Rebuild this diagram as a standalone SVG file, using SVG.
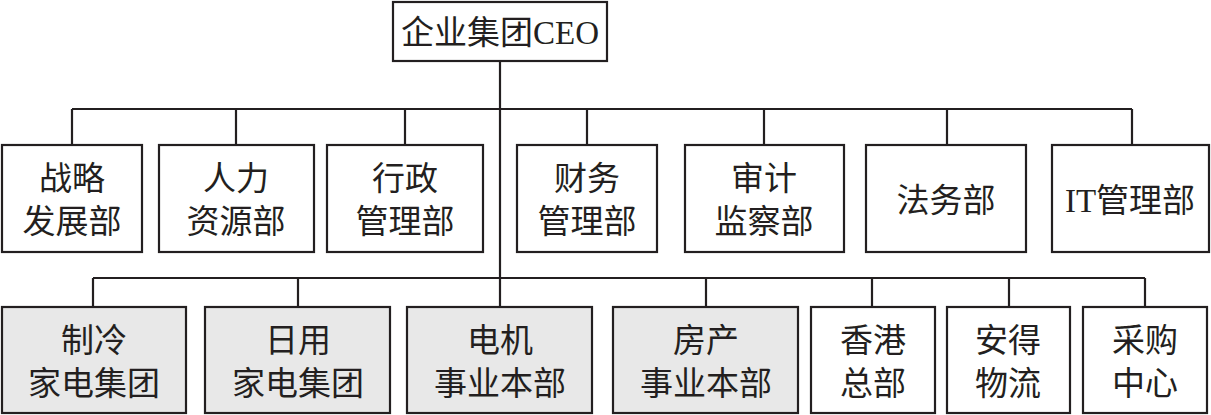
<svg xmlns="http://www.w3.org/2000/svg" width="1211" height="415" viewBox="0 0 1211 415">
<style>
.b{fill:#fff;stroke:#231f20;stroke-width:2.2}
.g{fill:#e8e8e8;stroke:#231f20;stroke-width:2.2}
.t{font-family:"Liberation Serif","Noto Sans CJK SC",serif;font-size:33px;fill:#231f20;text-anchor:middle}
.c{fill:none;stroke:#231f20;stroke-width:2.2}
</style>
<rect width="1211" height="415" fill="#fff"/>
<g id="connectors" class="c">
<path d="M500 61V278"/>
<path d="M72 109H1132M72 109V145M236 109V145M405 109V145M587 109V145M764 109V145M947 109V145M1132 109V145"/>
<path d="M93 278H1145M93 278V307M298 278V307M500 278V307M706 278V307M872 278V307M1009 278V307M1145 278V307"/>
</g>
<g id="ceo"><rect class="b" x="393" y="2" width="214" height="59"/><text class="t" x="500" y="44">企业集团CEO</text></g>
<g id="zhanlue"><rect class="b" x="2" y="145" width="140" height="107"/><text class="t" x="72" y="190">战略</text><text class="t" x="72" y="233">发展部</text></g>
<g id="renli"><rect class="b" x="159" y="145" width="155" height="107"/><text class="t" x="236" y="190">人力</text><text class="t" x="236" y="233">资源部</text></g>
<g id="xingzheng"><rect class="b" x="327" y="145" width="156" height="107"/><text class="t" x="405" y="190">行政</text><text class="t" x="405" y="233">管理部</text></g>
<g id="caiwu"><rect class="b" x="517" y="145" width="140" height="107"/><text class="t" x="587" y="190">财务</text><text class="t" x="587" y="233">管理部</text></g>
<g id="shenji"><rect class="b" x="685" y="145" width="159" height="107"/><text class="t" x="764" y="190">审计</text><text class="t" x="764" y="233">监察部</text></g>
<g id="fawu"><rect class="b" x="866" y="145" width="160" height="107"/><text class="t" x="946" y="212">法务部</text></g>
<g id="it"><rect class="b" x="1052" y="145" width="157" height="107"/><text class="t" x="1130" y="212">IT管理部</text></g>
<g id="zhileng"><rect class="g" x="2" y="307" width="184" height="106"/><text class="t" x="94" y="352">制冷</text><text class="t" x="94" y="395">家电集团</text></g>
<g id="riyong"><rect class="g" x="205" y="307" width="185" height="106"/><text class="t" x="298" y="352">日用</text><text class="t" x="298" y="395">家电集团</text></g>
<g id="dianji"><rect class="g" x="407" y="307" width="185" height="106"/><text class="t" x="500" y="352">电机</text><text class="t" x="500" y="395">事业本部</text></g>
<g id="fangchan"><rect class="g" x="613" y="307" width="185" height="106"/><text class="t" x="706" y="352">房产</text><text class="t" x="706" y="395">事业本部</text></g>
<g id="xianggang"><rect class="b" x="811" y="307" width="124" height="106"/><text class="t" x="873" y="352">香港</text><text class="t" x="873" y="395">总部</text></g>
<g id="ande"><rect class="b" x="947" y="307" width="123" height="106"/><text class="t" x="1008" y="352">安得</text><text class="t" x="1008" y="395">物流</text></g>
<g id="caigou"><rect class="b" x="1083" y="307" width="124" height="106"/><text class="t" x="1145" y="352">采购</text><text class="t" x="1145" y="395">中心</text></g>
</svg>
